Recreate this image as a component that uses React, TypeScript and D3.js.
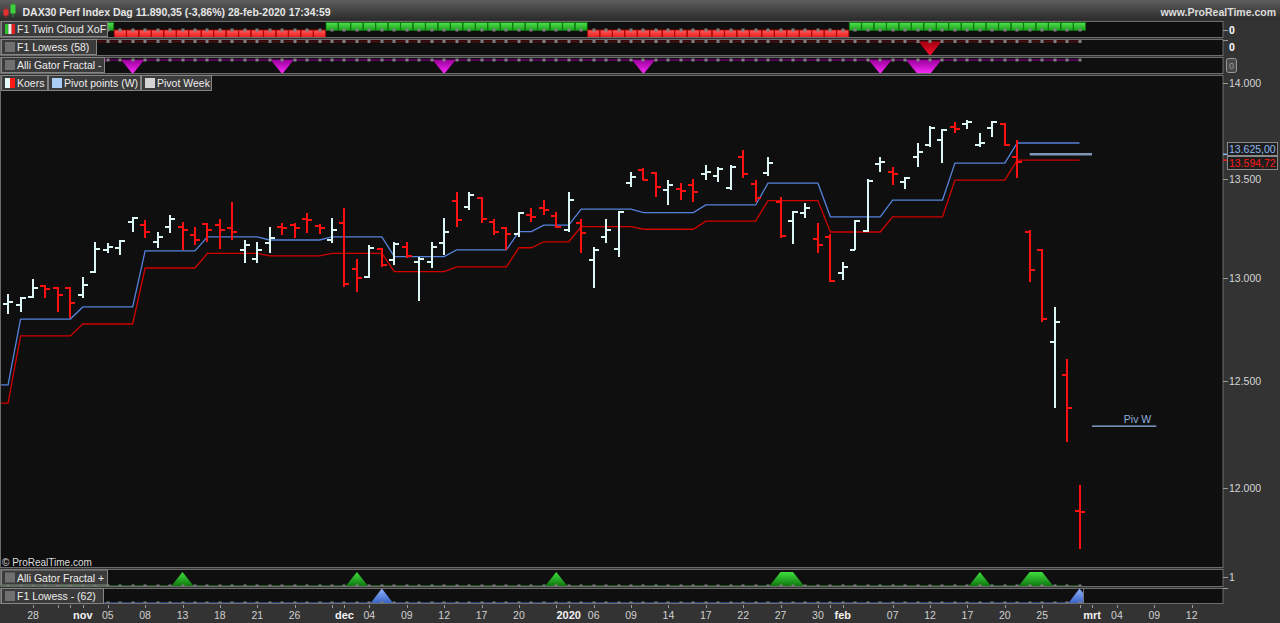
import React, { useEffect, useRef } from "react";
import * as d3 from "d3";

// trading calendar (Xetra)
const firstDay = "2019-10-23";
const lastDay = "2020-03-13";
const holidays = ["2019-12-24", "2019-12-25", "2019-12-26", "2019-12-31", "2020-01-01"];

// daily OHLC, 23-oct-2019 .. 28-feb-2020
const opens = [
  12790, 12870, 12865,
  12905, 12960, 12950, 12950, 12915,
  13029, 13138, 13148, 13279, 13264,
  13178, 13254, 13254, 13213, 13269,
  13264, 13249, 13138, 13093, 13173,
  13254, 13264, 13294, 13259, 13188,
  13274, 13043, 13004, 13143, 13088,
  13153, 13078, 13078, 13173, 13385,
  13355, 13401, 13279, 13249, 13218,
  13314, 13350, 13309, 13239, 13274,
  13088, 13203, 13143, 13478, 13545,
  13529, 13442, 13447, 13467, 13524,
  13514, 13452, 13611, 13472, 13529,
  13380, 13284, 13324, 13193, 13203,
  13024, 13138, 13233, 13575, 13534,
  13483, 13611, 13674, 13700, 13768,
  13783, 13674, 13762, 13783, 13611,
  13228, 13138, 12685, 12527, 11895,
];
const highs = [
  12850, 12920, 12905,
  12994, 12964, 12955, 12955, 13004,
  13178, 13173, 13188, 13304, 13289,
  13228, 13314, 13279, 13254, 13274,
  13294, 13380, 13188, 13178, 13254,
  13274, 13274, 13324, 13269, 13299,
  13350, 13093, 13163, 13148, 13178,
  13178, 13103, 13178, 13299, 13431,
  13431, 13406, 13294, 13254, 13329,
  13350, 13390, 13329, 13431, 13294,
  13153, 13294, 13334, 13534, 13555,
  13534, 13493, 13478, 13498, 13570,
  13560, 13570, 13648, 13493, 13611,
  13406, 13334, 13375, 13274, 13218,
  13078, 13289, 13498, 13611, 13560,
  13508, 13684, 13773, 13757, 13794,
  13804, 13736, 13799, 13789, 13700,
  13239, 13143, 12856, 12604, 12013,
];
const lows = [
  12760, 12820, 12831,
  12900, 12900, 12831, 12802, 12900,
  13024, 13123, 13113, 13228, 13198,
  13148, 13223, 13138, 13163, 13178,
  13143, 13188, 13074, 13074, 13123,
  13213, 13198, 13223, 13218, 13173,
  12955, 12930, 12999, 13054, 13064,
  13098, 12885, 13048, 13113, 13254,
  13340, 13274, 13213, 13138, 13203,
  13279, 13314, 13249, 13228, 13123,
  12950, 13173, 13103, 13457, 13493,
  13406, 13365, 13390, 13380, 13493,
  13483, 13442, 13503, 13380, 13514,
  13198, 13168, 13299, 13123, 12980,
  12989, 13138, 13228, 13534, 13467,
  13447, 13560, 13663, 13580, 13736,
  13757, 13663, 13715, 13668, 13503,
  12979, 12782, 12370, 12212, 11725,
];
const closes = [
  12806, 12880, 12900,
  12950, 12945, 12915, 12875, 12964,
  13143, 13153, 13183, 13299, 13228,
  13203, 13294, 13239, 13188, 13239,
  13239, 13228, 13163, 13138, 13198,
  13249, 13249, 13289, 13249, 13239,
  12970, 12999, 13148, 13064, 13168,
  13108, 13093, 13153, 13228, 13289,
  13416, 13294, 13228, 13218, 13324,
  13304, 13340, 13254, 13390, 13223,
  13138, 13239, 13329, 13508, 13493,
  13457, 13467, 13437, 13431, 13534,
  13550, 13560, 13524, 13401, 13580,
  13208, 13329, 13350, 13163, 12984,
  13054, 13284, 13488, 13586, 13524,
  13503, 13637, 13762, 13752, 13757,
  13794, 13684, 13794, 13674, 13586,
  13038, 12797, 12782, 12370, 11890.35,
];

// Pivot points (W): first day of each weekly segment, pivot and lower band
const pivotStarts = [
  "2019-10-23", "2019-10-25", "2019-11-01", "2019-11-08", "2019-11-15",
  "2019-11-22", "2019-11-29", "2019-12-06", "2019-12-13", "2019-12-20",
  "2019-12-27", "2020-01-03", "2020-01-10", "2020-01-17", "2020-01-24",
  "2020-01-31", "2020-02-07", "2020-02-14", "2020-02-21",
];
const pivotMain = [
  12480, 12797, 12856, 13133, 13204, 13188, 13204, 13105, 13138, 13230,
  13263, 13344, 13326, 13365, 13476, 13305, 13390, 13580, 13684,
];
const pivotLow = [
  12394, 12715, 12773, 13048, 13121, 13108, 13121, 13030, 13054, 13149,
  13179, 13255, 13242, 13283, 13387, 13228, 13305, 13492, 13594.72,
];

// Pivot Week (current) and next week's Piv W
const pivotWeekDays = ["2020-02-24", "2020-03-02"];
const pivotWeekValue = 13625;
const pivNextDays = ["2020-03-02", "2020-03-09"];
const pivNextValue = 12286;

// F1 Twin Cloud XoF regime (1 = green, -1 = red)
const cloudStarts = ["2019-10-23", "2019-11-06", "2019-11-29", "2020-01-06", "2020-02-04"];
const cloudStates = [1, -1, 1, -1, 1];

// signal days of the small indicator panels
const lowess58Days = ["2020-02-12"];
const gatorMinusDays = [
  "2019-11-01", "2019-11-04", "2019-11-07", "2019-11-25", "2019-12-12",
  "2020-01-10", "2020-02-06", "2020-02-11", "2020-02-12",
];
const gatorPlusDays = [
  "2019-10-31", "2019-11-13", "2019-12-03", "2019-12-30", "2020-01-27",
  "2020-01-28", "2020-02-18", "2020-02-24", "2020-02-25",
];
const lowess62Days = ["2019-12-05", "2020-02-28"];

const priceTicks = [12000, 12500, 13000, 13500, 14000];

const tickDays = [
  "2019-10-28", "2019-11-01", "2019-11-05", "2019-11-08", "2019-11-13", "2019-11-18",
  "2019-11-21", "2019-11-26", "2019-12-02", "2019-12-04", "2019-12-09", "2019-12-12",
  "2019-12-17", "2019-12-20", "2020-01-02", "2020-01-06", "2020-01-09", "2020-01-14",
  "2020-01-17", "2020-01-22", "2020-01-27", "2020-01-30", "2020-02-03", "2020-02-07",
  "2020-02-12", "2020-02-17", "2020-02-20", "2020-02-25", "2020-03-02", "2020-03-04",
  "2020-03-09", "2020-03-12",
];
const tickLabels = [
  "28", "nov", "05", "08", "13", "18", "21", "26", "dec", "04", "09", "12",
  "17", "20", "2020", "06", "09", "14", "17", "22", "27", "30", "feb", "07",
  "12", "17", "20", "25", "mrt", "04", "09", "12",
];
const monthEndDays = ["2019-10-30", "2019-10-31", "2019-11-29", "2019-12-30", "2020-01-31", "2020-02-28"];

const FONT = "'Liberation Sans', Arial, Helvetica, sans-serif";
const UP = "#dcf6f6";
const DOWN = "#ff1010";

const App = () => {
  const svgRef = useRef<SVGSVGElement>(null);

  useEffect(() => {
    const parse = d3.timeParse("%Y-%m-%d");
    const fmt = d3.timeFormat("%Y-%m-%d");
    const days: string[] = [];
    const end = parse(lastDay)!;
    for (let d = parse(firstDay)!; d <= end; d = d3.timeDay.offset(d, 1)) {
      const k = fmt(d);
      if (d.getDay() === 0 || d.getDay() === 6 || holidays.includes(k)) continue;
      days.push(k);
    }
    const idx = (k: string) => days.indexOf(k);

    const bars = opens.map((o, i) => ({
      i,
      day: days[i],
      o,
      h: highs[i],
      l: lows[i],
      c: closes[i],
    }));
    const lookup = (starts: string[], vals: number[], day: string) => {
      let v = vals[0];
      starts.forEach((s, k) => {
        if (s <= day) v = vals[k];
      });
      return v;
    };

    const W = 1280;
    const H = 623;
    const right = 1223;

    const x = d3
      .scaleLinear()
      .domain([idx("2019-10-28"), idx("2020-03-02")])
      .range([33, 1092]);
    const y = d3.scaleLog().domain([12000, 14000]).range([488, 83]);

    const svg = d3
      .select(svgRef.current)
      .attr("width", W)
      .attr("height", H)
      .style("font-family", FONT);
    svg.selectAll("*").remove();

    const defs = svg.append("defs");
    const grad = (id: string, top: string, bottom: string) => {
      const g = defs
        .append("linearGradient")
        .attr("id", id)
        .attr("x1", 0)
        .attr("y1", 0)
        .attr("x2", 0)
        .attr("y2", 1);
      g.append("stop").attr("offset", "0%").attr("stop-color", top);
      g.append("stop").attr("offset", "100%").attr("stop-color", bottom);
    };
    grad("title", "#5e5e5e", "#2c2c2c");
    grad("gmin", "#9a009a", "#ff2cff");
    grad("lred", "#a00010", "#ff1030");
    grad("gplus", "#3ee03e", "#0e720e");
    grad("lblue", "#92b4ff", "#3560c4");
    grad("cgreen", "#4fe34f", "#1a9e1a");
    grad("cred", "#ff5a5a", "#e81414");

    // frame
    svg.append("rect").attr("width", W).attr("height", H).attr("fill", "#333333");
    svg.append("rect").attr("width", W).attr("height", 20).attr("fill", "url(#title)");

    const panels: Record<string, [number, number]> = {
      cloud: [21, 38],
      low58: [39, 56],
      gmin: [57, 74],
      main: [75, 568],
      gplus: [569, 587],
      low62: [588, 604],
    };
    Object.entries(panels).forEach(([key, [t, b]]) => {
      svg
        .append("rect")
        .attr("x", 0.5)
        .attr("y", t + 0.5)
        .attr("width", right - 0.5)
        .attr("height", b - t - 1)
        .attr("fill", "#0f0f0f")
        .attr("stroke", "#6c6c6c");
      defs
        .append("clipPath")
        .attr("id", "clip-" + key)
        .append("rect")
        .attr("x", 1)
        .attr("y", t + 1)
        .attr("width", (key === "low62" ? 1083 : right) - 1)
        .attr("height", b - t - 2);
    });

    const layer = (key: string) => svg.append("g").attr("clip-path", `url(#clip-${key})`);
    const x0 = x(bars[0].i);
    const xN = x(bars[bars.length - 1].i);

    const dots = (g: any, yy: number) => {
      g.selectAll("rect.dot")
        .data(bars)
        .join("rect")
        .attr("class", "dot")
        .attr("x", (d: any) => Math.round(x(d.i)) - 1.5)
        .attr("y", yy - 1.5)
        .attr("width", 3)
        .attr("height", 3)
        .attr("fill", "#808080");
    };
    const baseline = (g: any, yy: number, color: string, w: number) =>
      g
        .append("line")
        .attr("x1", x0)
        .attr("x2", xN)
        .attr("y1", yy)
        .attr("y2", yy)
        .attr("stroke", color)
        .attr("stroke-width", w);

    const runs = (list: string[]) => {
      const ids = list.map(idx).sort((a, b) => a - b);
      const out: [number, number][] = [];
      ids.forEach((i) => {
        const last = out[out.length - 1];
        if (last && last[1] === i - 1) last[1] = i;
        else out.push([i, i]);
      });
      return out;
    };
    const markers = (g: any, list: string[], top: number, bottom: number, down: boolean, fill: string) => {
      g.selectAll("polygon.mk")
        .data(runs(list))
        .join("polygon")
        .attr("class", "mk")
        .attr("fill", fill)
        .attr("points", ([a, b]: [number, number]) => {
          const xa = x(a);
          const xb = x(b);
          const pts = down
            ? [[xa - 11.5, top], [xb + 11.5, top], [xb, bottom], [xa, bottom]]
            : [[xa, top], [xb, top], [xb + 11.5, bottom], [xa - 11.5, bottom]];
          return pts.map((p) => p.join(",")).join(" ");
        });
    };

    // F1 Twin Cloud XoF
    const gc = layer("cloud");
    gc.selectAll("rect.blk")
      .data(bars)
      .join("rect")
      .attr("class", "blk")
      .attr("x", (d) => x(d.i) - 6)
      .attr("width", 12)
      .attr("y", (d) => (lookup(cloudStarts, cloudStates, d.day) > 0 ? 22.5 : 30))
      .attr("height", (d) => (lookup(cloudStarts, cloudStates, d.day) > 0 ? 8 : 8.5))
      .attr("fill", (d) => (lookup(cloudStarts, cloudStates, d.day) > 0 ? "url(#cgreen)" : "url(#cred)"))
      .attr("stroke", (d) => (lookup(cloudStarts, cloudStates, d.day) > 0 ? "#0c780c" : "#b00000"))
      .attr("stroke-width", 0.8);
    dots(gc, 30);

    // F1 Lowess (58)
    const g2 = layer("low58");
    baseline(g2, 41.5, "#4a0c0c", 2);
    markers(g2, lowess58Days, 41.5, 56, true, "url(#lred)");
    dots(g2, 41.5);

    // Alli Gator Fractal -
    const g3 = layer("gmin");
    baseline(g3, 60, "#6a006a", 1.5);
    markers(g3, gatorMinusDays, 60, 74, true, "url(#gmin)");
    dots(g3, 60);

    // Alli Gator Fractal +
    const g4 = layer("gplus");
    baseline(g4, 586, "#1f6a1f", 1.5);
    markers(g4, gatorPlusDays, 572, 586.5, false, "url(#gplus)");
    dots(g4, 586);

    // F1 Lowess - (62)
    const g5 = layer("low62");
    baseline(g5, 603, "#34549c", 1.5);
    markers(g5, lowess62Days, 588.5, 603.5, false, "url(#lblue)");
    dots(g5, 603);
    svg
      .append("line")
      .attr("x1", 1083.5)
      .attr("x2", 1083.5)
      .attr("y1", 588)
      .attr("y2", 604)
      .attr("stroke", "#777");

    // main price panel
    const gm = layer("main");
    const pivLine = d3
      .line<any>()
      .x((d) => x(d.i))
      .y((d) => d.v);
    gm.append("path")
      .attr("d", pivLine(bars.map((b) => ({ i: b.i, v: y(lookup(pivotStarts, pivotLow, b.day)) }))))
      .attr("fill", "none")
      .attr("stroke", "#d20000")
      .attr("stroke-width", 1.3);
    gm.append("path")
      .attr("d", pivLine(bars.map((b) => ({ i: b.i, v: y(lookup(pivotStarts, pivotMain, b.day)) }))))
      .attr("fill", "none")
      .attr("stroke", "#5583dc")
      .attr("stroke-width", 1.3);

    gm.append("line")
      .attr("x1", x(idx(pivotWeekDays[0])))
      .attr("x2", x(idx(pivotWeekDays[1])))
      .attr("y1", y(pivotWeekValue))
      .attr("y2", y(pivotWeekValue))
      .attr("stroke", "#7d96b4")
      .attr("stroke-width", 2.5);
    gm.append("line")
      .attr("x1", x(idx(pivNextDays[0])))
      .attr("x2", x(idx(pivNextDays[1])) + 2)
      .attr("y1", y(pivNextValue))
      .attr("y2", y(pivNextValue))
      .attr("stroke", "#8fb8ec")
      .attr("stroke-width", 1.3);
    gm.append("text")
      .attr("x", x(idx(pivNextDays[1])) - 3)
      .attr("y", y(pivNextValue) - 3.5)
      .attr("text-anchor", "end")
      .attr("fill", "#8fb0dc")
      .style("font-size", "10.5px")
      .text("Piv W");

    const ohlc = gm
      .selectAll("g.bar")
      .data(bars)
      .join("g")
      .attr("class", "bar")
      .attr("stroke", (d) => (d.c >= d.o ? UP : DOWN))
      .attr("stroke-width", 2)
      .attr("shape-rendering", "crispEdges");
    ohlc
      .append("line")
      .attr("x1", (d) => Math.round(x(d.i)))
      .attr("x2", (d) => Math.round(x(d.i)))
      .attr("y1", (d) => y(d.h))
      .attr("y2", (d) => y(d.l));
    ohlc
      .append("line")
      .attr("x1", (d) => Math.round(x(d.i)) - 5)
      .attr("x2", (d) => Math.round(x(d.i)))
      .attr("y1", (d) => Math.round(y(d.o)))
      .attr("y2", (d) => Math.round(y(d.o)));
    ohlc
      .append("line")
      .attr("x1", (d) => Math.round(x(d.i)))
      .attr("x2", (d) => Math.round(x(d.i)) + 5)
      .attr("y1", (d) => Math.round(y(d.c)))
      .attr("y2", (d) => Math.round(y(d.c)));

    svg
      .append("text")
      .attr("x", 2)
      .attr("y", 566)
      .attr("fill", "#dddddd")
      .style("font-size", "10px")
      .text("© ProRealTime.com");

    // legend boxes
    const label = (lx: number, ly: number, w: number, h: number, text: string, colors: string[]) => {
      const g = svg.append("g");
      g.append("rect")
        .attr("x", lx + 0.5)
        .attr("y", ly + 0.5)
        .attr("width", w)
        .attr("height", h)
        .attr("fill", "#3b3b3b")
        .attr("stroke", "#858585");
      const iw = 10 / colors.length;
      colors.forEach((c, k) =>
        g.append("rect")
          .attr("x", lx + 4 + k * iw)
          .attr("y", ly + (h - 10) / 2 + 0.5)
          .attr("width", iw)
          .attr("height", 10)
          .attr("fill", c)
      );
      g.append("text")
        .attr("x", lx + 16)
        .attr("y", ly + h / 2 + 4.5)
        .attr("fill", "#ececec")
        .style("font-size", "10.5px")
        .text(text);
    };
    const grey = ["#707070"];
    label(1, 21, 106, 15, "F1 Twin Cloud XoF", ["#2cc02c", "#ececec", "#e42020"]);
    label(1, 39, 95, 15, "F1 Lowess (58)", grey);
    label(1, 57, 103, 15, "Alli Gator Fractal -", grey);
    label(1, 75, 46, 15, "Koers", ["#e4fafa", "#ff1a1a"]);
    label(48, 75, 92, 15, "Pivot points (W)", ["#a9cdf5"]);
    label(141, 75, 70, 15, "Pivot Week", ["#d4d4d4"]);
    label(1, 569.5, 106, 15, "Alli Gator Fractal +", grey);
    label(1, 588, 102, 15, "F1 Lowess - (62)", grey);

    // title bar
    const icon = svg.append("g");
    icon.append("line").attr("x1", 6).attr("x2", 6).attr("y1", 7).attr("y2", 18).attr("stroke", "#c02020");
    icon.append("rect").attr("x", 3.5).attr("y", 9.5).attr("width", 5).attr("height", 6).attr("fill", "#e43030");
    icon.append("line").attr("x1", 13).attr("x2", 13).attr("y1", 2).attr("y2", 17).attr("stroke", "#20a020");
    icon.append("rect").attr("x", 10.5).attr("y", 4.5).attr("width", 5).attr("height", 9).attr("fill", "#3cd03c");
    svg
      .append("text")
      .attr("x", 22.5)
      .attr("y", 15.5)
      .attr("fill", "#e6e6e6")
      .style("font-size", "10.5px")
      .style("font-weight", "bold")
      .text("DAX30 Perf Index Dag 11.890,35 (-3,86%) 28-feb-2020 17:34:59");
    svg
      .append("text")
      .attr("x", 1276)
      .attr("y", 16)
      .attr("text-anchor", "end")
      .attr("fill", "#dcdcdc")
      .style("font-size", "10.5px")
      .style("font-weight", "bold")
      .text("www.ProRealTime.com");

    // right axis
    const ax = svg.append("g").attr("fill", "#d6d6d6").style("font-size", "10.5px");
    const tick = (yy: number) =>
      ax.append("line")
        .attr("x1", right)
        .attr("x2", right + 5)
        .attr("y1", yy)
        .attr("y2", yy)
        .attr("stroke", "#9a9a9a");
    priceTicks.forEach((v) => {
      tick(Math.round(y(v)) + 0.5);
      ax.append("text")
        .attr("x", 1229)
        .attr("y", y(v) + 4)
        .text(d3.format(",")(v).replace(",", "."));
    });
    tick(30.5);
    tick(40.5);
    tick(577.5);
    tick(588.5);
    ax.append("text").attr("x", 1229).attr("y", 34).attr("fill", "#ffffff").style("font-weight", "bold").text("0");
    ax.append("text").attr("x", 1229).attr("y", 51).attr("fill", "#ffffff").style("font-weight", "bold").text("0");
    ax.append("rect")
      .attr("x", 1226.5)
      .attr("y", 58.5)
      .attr("width", 10)
      .attr("height", 14)
      .attr("rx", 2)
      .attr("fill", "#4a4a4a")
      .attr("stroke", "#9a9a9a");
    ax.append("text").attr("x", 1229).attr("y", 69).attr("fill", "#9a9a9a").style("font-size", "9px").text("0");
    ax.append("text").attr("x", 1229).attr("y", 581).text("1");

    // last value boxes
    const yPW = y(pivotWeekValue);
    const yLow = y(pivotLow[pivotLow.length - 1]);
    ax.append("line").attr("x1", right).attr("x2", right + 4).attr("y1", yPW).attr("y2", yPW).attr("stroke", "#8fb8ec").attr("stroke-width", 1.5);
    ax.append("line").attr("x1", right).attr("x2", right + 4).attr("y1", yLow).attr("y2", yLow).attr("stroke", "#ff1a1a").attr("stroke-width", 1.5);
    ax.append("rect").attr("x", 1227.5).attr("y", 142.5).attr("width", 50).attr("height", 13).attr("fill", "#1e1e1e").attr("stroke", "#8a8a8a");
    ax.append("text").attr("x", 1229).attr("y", 153).attr("fill", "#8fbaf0").text(d3.format(",.2f")(pivotWeekValue).replace(",", "#").replace(".", ",").replace("#", "."));
    ax.append("rect").attr("x", 1227.5).attr("y", 156.5).attr("width", 50).attr("height", 13).attr("fill", "#1e1e1e").attr("stroke", "#8a8a8a");
    ax.append("text").attr("x", 1229).attr("y", 167).attr("fill", "#ff1a1a").text(d3.format(",.2f")(pivotLow[pivotLow.length - 1]).replace(",", "#").replace(".", ",").replace("#", "."));

    // date axis
    const bx = svg.append("g");
    [...tickDays, ...monthEndDays].forEach((d) => {
      const xx = Math.round(x(idx(d))) + 0.5;
      bx.append("line").attr("x1", xx).attr("x2", xx).attr("y1", 605).attr("y2", 608).attr("stroke", "#9a9a9a");
    });
    tickDays.forEach((d, k) => {
      const bold = !/^\d{2}$/.test(tickLabels[k]);
      bx.append("text")
        .attr("x", x(idx(d)))
        .attr("y", 619)
        .attr("text-anchor", "middle")
        .attr("fill", bold ? "#f2f2f2" : "#d0d0d0")
        .style("font-size", bold ? "11px" : "10.5px")
        .style("font-weight", bold ? "bold" : "normal")
        .text(tickLabels[k]);
    });
  }, []);

  return (
    <svg
      ref={svgRef}
      style={{ position: "absolute", left: 0, top: 0, display: "block" }}
    ></svg>
  );
};

export default App;
